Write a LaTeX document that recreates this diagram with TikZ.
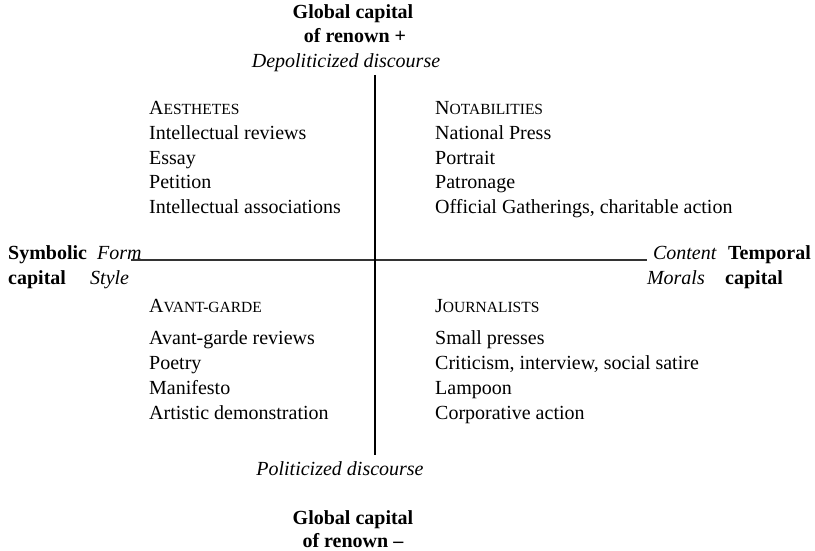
\documentclass[tikz,border=0pt]{standalone}
\usepackage{fontspec}
\setmainfont{Liberation Serif}
\newcommand\smallcapsfake[2]{#1{\fontsize{15.5}{15.5}\selectfont #2}}
\begin{document}
\begin{tikzpicture}[x=1pt,y=-1pt,
  txt/.style={inner sep=0pt, font=\fontsize{20}{24}\selectfont},
  item/.style={txt, anchor=base west},
  ctr/.style={txt, anchor=base},
  axis/.style={line width=1.6pt, black},
  baseline axis/.style={line width=1.1pt, black!80}]
  \useasboundingbox (0,0) rectangle (815,551);

  % top pole
  \node[ctr] (topa) at (353,19) {\textbf{Global capital}};
  \node[ctr] (topb) at (355,43) {\textbf{of renown +}};
  \node[ctr] (topc) at (346,68) {\textit{Depoliticized discourse}};

  % bottom pole
  \node[ctr] (botc) at (340,475) {\textit{Politicized discourse}};
  \node[ctr] (bota) at (353,524) {\textbf{Global capital}};
  \node[ctr] (botb) at (353,547) {\textbf{of renown –}};

  % left pole
  \node[item] (syma) at (8,259) {\textbf{Symbolic}};
  \node[item] (symb) at (8,284) {\textbf{capital}};
  \node[item] (form) at (97,259) {\textit{Form}};
  \node[item] (style) at (90,284) {\textit{Style}};

  % right pole
  \node[txt, anchor=base east] (content) at (717,259) {\textit{Content}};
  \node[txt, anchor=base east] (morals) at (705,284) {\textit{Morals}};
  \node[item] (tempa) at (728,259) {\textbf{Temporal}};
  \node[item] (tempb) at (725,284) {\textbf{capital}};

  % axes
  \coordinate (vtop) at (375,75);
  \coordinate (vbot) at (375,455);
  \coordinate (hleft) at (131,260);
  \coordinate (hright) at (647,260);
  \draw[baseline axis] (hleft) -- (hright);
  \draw[axis] (vtop) -- (vbot);

  % quadrant: aesthetes
  \node[item] (aes0) at (149,115) {\smallcapsfake{A}{ESTHETES}};
  \foreach \t [count=\i] in {Intellectual reviews, Essay, Petition, Intellectual associations}
    \node[item] (aes\i) at (149,115+24.6*\i) {\t};

  % quadrant: notabilities
  \node[item] (not0) at (435,115) {\smallcapsfake{N}{OTABILITIES}};
  \foreach \t [count=\i] in {National Press, Portrait, Patronage, {Official Gatherings, charitable action}}
    \node[item] (not\i) at (435,115+24.6*\i) {\t};

  % quadrant: avant-garde
  \node[item] (avg0) at (149,312) {\smallcapsfake{A}{VANT-GARDE}};
  \foreach \t [count=\i] in {Avant-garde reviews, Poetry, Manifesto, Artistic demonstration}
    \node[item] (avg\i) at (149,320+24.8*\i) {\t};

  % quadrant: journalists
  \node[item] (jou0) at (435,312) {\smallcapsfake{J}{OURNALISTS}};
  \foreach \t [count=\i] in {Small presses, {Criticism, interview, social satire}, Lampoon, Corporative action}
    \node[item] (jou\i) at (435,320+24.8*\i) {\t};
\end{tikzpicture}
\end{document}
